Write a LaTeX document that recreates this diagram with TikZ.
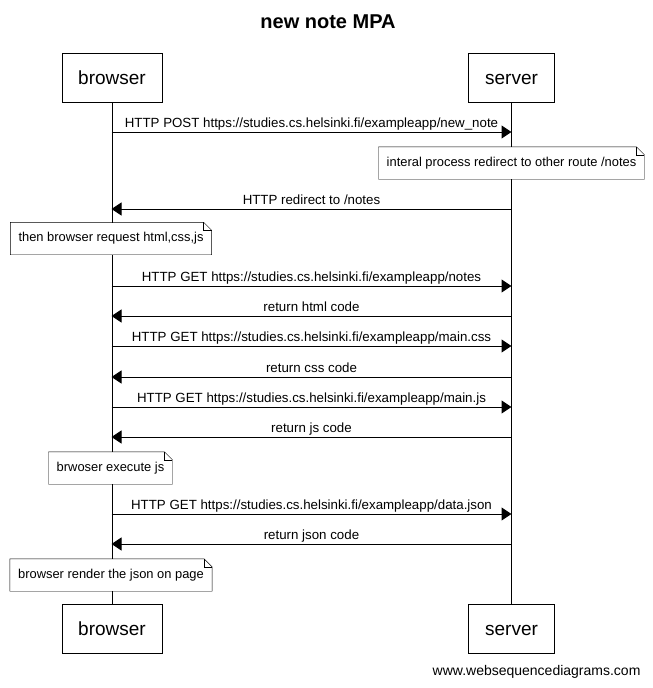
\documentclass[tikz,border=0pt]{standalone}
\usepackage{fontspec}
\setmainfont{Liberation Sans}
\usetikzlibrary{arrows.meta}

\tikzset{
  actor/.style = {draw, line width=1pt, minimum height=49pt, text height=15pt, text depth=2pt, font=\fontsize{19}{22}\selectfont},
  note/.style = {fill=white, inner xsep=8pt, inner ysep=0pt, minimum height=32pt, text height=9.5pt, text depth=3pt, font=\fontsize{12.9}{15}\selectfont},
  msg/.style = {line width=1pt, -{Triangle[length=10pt,width=13pt]}},
  lbl/.style = {above, inner sep=1pt, text height=9.5pt, text depth=3pt, font=\fontsize{13.3}{15}\selectfont},
}

\begin{document}
\begin{tikzpicture}[x=1pt, y=-1pt]
    \useasboundingbox (0,0) rectangle (653,688);
    \node[font=\bfseries\fontsize{20}{23}\selectfont] (title) at (328,22) {new note MPA};
    % participants, top and bottom
    \node[actor, minimum width=100pt] (bt) at (112,77.5) {browser};
    \node[actor, minimum width=86pt] (st) at (511.5,77.5) {server};
    \node[actor, minimum width=100pt] (bb) at (112,628.5) {browser};
    \node[actor, minimum width=86pt] (sb) at (511.5,628.5) {server};
    \draw[line width=1pt] (bt) -- (bb);
    \draw[line width=1pt] (st) -- (sb);
    % message heights on both lifelines
    \foreach \i/\y in {1/132, 2/209, 3/286, 4/316, 5/346, 6/377, 7/407, 8/437, 9/514, 10/544} {
        \coordinate (b\i) at (111.5,\y);
        \coordinate (s\i) at (511.5,\y);
    }
    % notes
    \node[note] (n1) at (511.5,163) {interal process redirect to other route /notes};
    \node[note] (n2) at (111,238.5) {then browser request html,css,js};
    \node[note] (n3) at (110.5,468) {brwoser execute js};
    \node[note] (n4) at (111,575) {browser render the json on page};
    \foreach \n in {n1,n2,n3,n4} {
        \draw ([xshift=-8pt]\n.north east) -- (\n.north west) -- (\n.south west) -- (\n.south east) -- ([yshift=-8pt]\n.north east) -- cycle;
        \draw ([yshift=-8pt]\n.north east) -- ([xshift=-8pt,yshift=-8pt]\n.north east) -- ([xshift=-8pt]\n.north east);
    }
    % messages
    \draw[msg] (b1) -- node[lbl] {HTTP POST https://studies.cs.helsinki.fi/exampleapp/new\_note} (s1);
    \draw[msg] (s2) -- node[lbl] {HTTP redirect to /notes} (b2);
    \draw[msg] (b3) -- node[lbl] {HTTP GET https://studies.cs.helsinki.fi/exampleapp/notes} (s3);
    \draw[msg] (s4) -- node[lbl] {return html code} (b4);
    \draw[msg] (b5) -- node[lbl] {HTTP GET https://studies.cs.helsinki.fi/exampleapp/main.css} (s5);
    \draw[msg] (s6) -- node[lbl] {return css code} (b6);
    \draw[msg] (b7) -- node[lbl] {HTTP GET https://studies.cs.helsinki.fi/exampleapp/main.js} (s7);
    \draw[msg] (s8) -- node[lbl] {return js code} (b8);
    \draw[msg] (b9) -- node[lbl] {HTTP GET https://studies.cs.helsinki.fi/exampleapp/data.json} (s9);
    \draw[msg] (s10) -- node[lbl] {return json code} (b10);
    \node[anchor=east, font=\fontsize{14}{16}\selectfont] (credit) at (644,672) {www.websequencediagrams.com};
\end{tikzpicture}
\end{document}
